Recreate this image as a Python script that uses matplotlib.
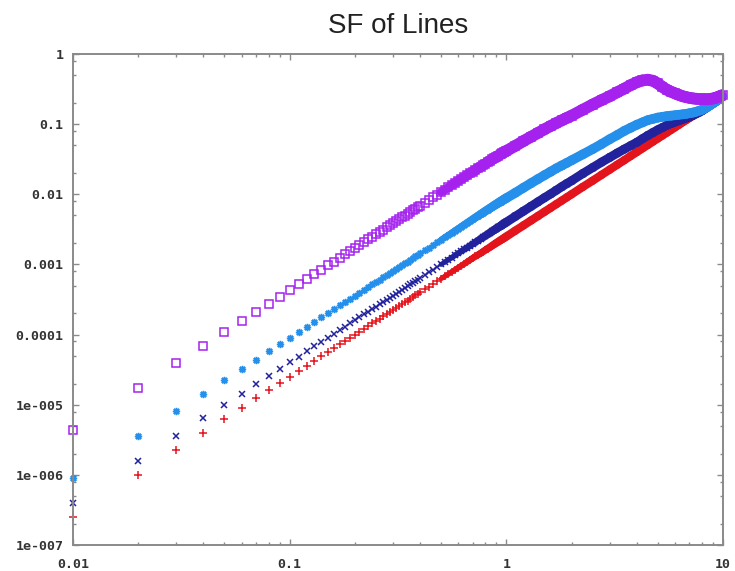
#!/usr/bin/env python3
"""Structure function of the four line series, log-log, gnuplot look."""

import numpy as np
import matplotlib
matplotlib.use("Agg")
import matplotlib.pyplot as plt
from matplotlib.collections import LineCollection
from matplotlib.ticker import LogLocator, FixedFormatter, NullFormatter

# lag values
lag = [0.01, 0.02, 0.03, 0.04, 0.05, 0.06, 0.07, 0.08, 0.09, 0.10,
       0.11, 0.12, 0.13, 0.14, 0.15, 0.16, 0.17, 0.18, 0.19, 0.20,
       0.21, 0.22, 0.23, 0.24, 0.25, 0.26, 0.27, 0.28, 0.29, 0.30,
       0.31, 0.32, 0.33, 0.34, 0.35, 0.36, 0.37, 0.38, 0.39, 0.40,
       0.42, 0.44, 0.46, 0.48, 0.50, 0.52, 0.54, 0.56, 0.58, 0.60,
       0.62, 0.64, 0.66, 0.68, 0.70, 0.72, 0.74, 0.76, 0.78, 0.80,
       0.82, 0.84, 0.86, 0.88, 0.90, 0.92, 0.94, 0.96, 0.98, 1.00,
       1.1, 1.2, 1.3, 1.4, 1.5, 1.6, 1.7, 1.8, 1.9, 2.0,
       2.25, 2.5, 2.75, 3.0, 3.25, 3.5, 3.75, 4.0, 4.25, 4.5, 4.75, 5.0,
       5.25, 5.5, 5.75, 6.0, 6.25, 6.5, 6.75, 7.0, 7.25, 7.5, 7.75, 8.0,
       8.25, 8.5, 8.75, 9.0, 9.25, 9.5, 9.75, 10.0]

sf_red = [2.5e-7, 1.0e-6, 2.25e-6, 4.0e-6, 6.25e-6, 9.0e-6, 1.23e-5, 1.6e-5, 2.03e-5, 2.5e-5,
          3.03e-5, 3.6e-5, 4.23e-5, 4.9e-5, 5.63e-5, 6.4e-5, 7.23e-5, 8.1e-5, 9.03e-5, 1.0e-4,
          1.10e-4, 1.21e-4, 1.32e-4, 1.44e-4, 1.56e-4, 1.69e-4, 1.82e-4, 1.96e-4, 2.10e-4, 2.25e-4,
          2.40e-4, 2.56e-4, 2.72e-4, 2.89e-4, 3.06e-4, 3.24e-4, 3.42e-4, 3.61e-4, 3.80e-4, 4.0e-4,
          4.41e-4, 4.84e-4, 5.29e-4, 5.76e-4, 6.25e-4, 6.76e-4, 7.29e-4, 7.84e-4, 8.41e-4, 9.0e-4,
          9.61e-4, 1.02e-3, 1.09e-3, 1.16e-3, 1.23e-3, 1.30e-3, 1.37e-3, 1.44e-3, 1.52e-3, 1.6e-3,
          1.68e-3, 1.76e-3, 1.85e-3, 1.94e-3, 2.03e-3, 2.12e-3, 2.21e-3, 2.30e-3, 2.40e-3, 2.5e-3,
          3.03e-3, 3.6e-3, 4.23e-3, 4.9e-3, 5.63e-3, 6.4e-3, 7.23e-3, 8.1e-3, 9.03e-3, 1.0e-2,
          0.0127, 0.0156, 0.0189, 0.0225, 0.0264, 0.0306, 0.0352, 0.040, 0.0452, 0.0506, 0.0564, 0.0625,
          0.0689, 0.0756, 0.0827, 0.090, 0.0977, 0.106, 0.114, 0.1225, 0.131, 0.141, 0.150, 0.160,
          0.170, 0.181, 0.191, 0.2025, 0.214, 0.226, 0.238, 0.25]

sf_navy = [4.0e-7, 1.6e-6, 3.6e-6, 6.4e-6, 1.0e-5, 1.44e-5, 1.96e-5, 2.56e-5, 3.24e-5, 4.0e-5,
           4.84e-5, 5.76e-5, 6.76e-5, 7.84e-5, 9.0e-5, 1.02e-4, 1.16e-4, 1.3e-4, 1.44e-4, 1.6e-4,
           1.76e-4, 1.94e-4, 2.12e-4, 2.30e-4, 2.5e-4, 2.70e-4, 2.92e-4, 3.14e-4, 3.36e-4, 3.6e-4,
           3.84e-4, 4.10e-4, 4.36e-4, 4.62e-4, 4.9e-4, 5.18e-4, 5.48e-4, 5.78e-4, 6.08e-4, 6.4e-4,
           7.06e-4, 7.74e-4, 8.46e-4, 9.22e-4, 1.0e-3, 1.08e-3, 1.17e-3, 1.25e-3, 1.35e-3, 1.44e-3,
           1.54e-3, 1.64e-3, 1.74e-3, 1.85e-3, 1.96e-3, 2.07e-3, 2.19e-3, 2.31e-3, 2.43e-3, 2.56e-3,
           2.69e-3, 2.82e-3, 2.96e-3, 3.10e-3, 3.24e-3, 3.39e-3, 3.53e-3, 3.69e-3, 3.84e-3, 4.0e-3,
           4.84e-3, 5.75e-3, 6.73e-3, 7.8e-3, 8.93e-3, 1.01e-2, 1.14e-2, 1.28e-2, 1.42e-2, 1.56e-2,
           0.0197, 0.024, 0.0287, 0.0335, 0.0387, 0.044, 0.0494, 0.055, 0.062, 0.069, 0.076, 0.083,
           0.0895, 0.096, 0.102, 0.107, 0.112, 0.117, 0.122, 0.127, 0.133, 0.140, 0.147, 0.155,
           0.165, 0.175, 0.186, 0.197, 0.209, 0.222, 0.236, 0.25]

sf_sky = [9.0e-7, 3.6e-6, 8.1e-6, 1.44e-5, 2.25e-5, 3.24e-5, 4.41e-5, 5.76e-5, 7.29e-5, 9.0e-5,
          1.09e-4, 1.3e-4, 1.52e-4, 1.76e-4, 2.03e-4, 2.3e-4, 2.6e-4, 2.92e-4, 3.25e-4, 3.6e-4,
          3.97e-4, 4.36e-4, 4.76e-4, 5.18e-4, 5.63e-4, 6.08e-4, 6.56e-4, 7.06e-4, 7.57e-4, 8.1e-4,
          8.65e-4, 9.22e-4, 9.8e-4, 1.04e-3, 1.10e-3, 1.17e-3, 1.23e-3, 1.30e-3, 1.37e-3, 1.44e-3,
          1.59e-3, 1.74e-3, 1.90e-3, 2.07e-3, 2.25e-3, 2.43e-3, 2.62e-3, 2.82e-3, 3.03e-3, 3.24e-3,
          3.46e-3, 3.69e-3, 3.92e-3, 4.16e-3, 4.41e-3, 4.67e-3, 4.93e-3, 5.2e-3, 5.48e-3, 5.76e-3,
          6.04e-3, 6.33e-3, 6.63e-3, 6.93e-3, 7.24e-3, 7.55e-3, 7.86e-3, 8.18e-3, 8.5e-3, 8.82e-3,
          1.05e-2, 1.24e-2, 1.44e-2, 1.65e-2, 1.87e-2, 2.1e-2, 2.34e-2, 2.57e-2, 2.8e-2, 3.05e-2,
          0.037, 0.044, 0.052, 0.061, 0.070, 0.080, 0.089, 0.098, 0.106, 0.114, 0.119, 0.124,
          0.127, 0.130, 0.132, 0.134, 0.136, 0.138, 0.140, 0.143, 0.146, 0.150, 0.155, 0.160,
          0.168, 0.178, 0.188, 0.200, 0.212, 0.224, 0.237, 0.25]

sf_violet = [4.3e-6, 1.72e-5, 3.87e-5, 6.88e-5, 1.08e-4, 1.55e-4, 2.11e-4, 2.75e-4, 3.48e-4, 4.3e-4,
             5.2e-4, 6.19e-4, 7.27e-4, 8.43e-4, 9.68e-4, 1.1e-3, 1.24e-3, 1.39e-3, 1.55e-3, 1.72e-3,
             1.90e-3, 2.08e-3, 2.27e-3, 2.48e-3, 2.69e-3, 2.91e-3, 3.13e-3, 3.37e-3, 3.62e-3, 3.87e-3,
             4.13e-3, 4.40e-3, 4.68e-3, 4.97e-3, 5.27e-3, 5.57e-3, 5.89e-3, 6.21e-3, 6.54e-3, 6.88e-3,
             7.59e-3, 8.32e-3, 9.1e-3, 9.91e-3, 1.075e-2, 1.16e-2, 1.25e-2, 1.35e-2, 1.45e-2, 1.55e-2,
             1.65e-2, 1.76e-2, 1.87e-2, 1.99e-2, 2.1e-2, 2.22e-2, 2.35e-2, 2.48e-2, 2.6e-2, 2.74e-2,
             2.87e-2, 3.0e-2, 3.14e-2, 3.28e-2, 3.42e-2, 3.56e-2, 3.71e-2, 3.86e-2, 4.0e-2, 4.15e-2,
             4.9e-2, 5.75e-2, 6.6e-2, 7.5e-2, 8.45e-2, 9.4e-2, 0.1035, 0.113, 0.1225, 0.132,
             0.16, 0.19, 0.22, 0.25, 0.285, 0.32, 0.36, 0.395, 0.42, 0.43, 0.415, 0.38,
             0.34, 0.31, 0.29, 0.275, 0.262, 0.25, 0.243, 0.237, 0.233, 0.23, 0.228, 0.226,
             0.226, 0.227, 0.229, 0.232, 0.238, 0.245, 0.253, 0.262]

y_ticks = [1e-7, 1e-6, 1e-5, 1e-4, 1e-3, 1e-2, 1e-1, 1]
y_labels = ["1e-007", "1e-006", "1e-005", "0.0001", "0.001", "0.01", "0.1", "1"]
x_ticks = [0.01, 0.1, 1, 10]
x_labels = ["0.01", "0.1", "1", "10"]

# (values, colour, marker, markersize, band width thin -> full, in pt)
series = [
    (sf_red, "#e4141c", "+", 5.2, 3.5, 6.0),
    (sf_navy, "#22229c", "x", 5.0, 3.5, 6.5),
    (sf_sky, "#2490ec", (8, 2, 0), 5.2, 4.5, 7.0),
    (sf_violet, "#a522ee", "s", 5.6, 6.0, 8.5),
]

# the symbols start piling up into a band at BAND_FROM; fully merged by BAND_FULL
BAND_FROM, BAND_FULL = 0.5, 1.0

fig = plt.figure(figsize=(7.35, 5.71), dpi=100)
ax = fig.add_axes([73 / 735, 1 - 545 / 571, 650 / 735, 491 / 571])

x = np.array(lag)
for i, (vals, col, mk, ms, w0, w1) in enumerate(series):
    y = np.array(vals)
    idx = np.where(x >= BAND_FROM)[0]
    segs = [[(x[a], y[a]), (x[a + 1], y[a + 1])] for a in idx[:-1]]
    t = np.clip(np.log(x[idx[:-1]] / BAND_FROM) / np.log(BAND_FULL / BAND_FROM), 0, 1)
    lc = LineCollection(segs, colors=col, linewidths=w0 + (w1 - w0) * t,
                        capstyle="round", joinstyle="round", zorder=2 + 2 * i)
    ax.add_collection(lc)
    ax.plot(x, y, ls="none", marker=mk, ms=ms, mew=1.1,
            mec=col, mfc="none", color=col, zorder=3 + 2 * i, clip_on=False)

ax.set_xscale("log")
ax.set_yscale("log")
ax.set_xlim(0.01, 10)
ax.set_ylim(1e-7, 1)

ax.set_xticks(x_ticks)
ax.xaxis.set_major_formatter(FixedFormatter(x_labels))
ax.set_yticks(y_ticks)
ax.yaxis.set_major_formatter(FixedFormatter(y_labels))
ax.xaxis.set_minor_locator(LogLocator(base=10, subs=np.arange(2, 10), numticks=20))
ax.yaxis.set_minor_locator(LogLocator(base=10, subs=[2, 5, 8], numticks=20))
ax.xaxis.set_minor_formatter(NullFormatter())
ax.yaxis.set_minor_formatter(NullFormatter())

grey = "#8a8a8a"
for sp in ax.spines.values():
    sp.set_color(grey)
    sp.set_linewidth(1.4)
    sp.set_zorder(20)
ax.tick_params(which="both", direction="in", top=True, right=True,
               color=grey, width=1.0)
ax.tick_params(which="major", length=4)
ax.tick_params(which="minor", length=2.2)
for lbl in ax.get_xticklabels() + ax.get_yticklabels():
    lbl.set_fontfamily("DejaVu Sans Mono")
    lbl.set_fontweight("bold")
    lbl.set_fontsize(9.5)
    lbl.set_color("#333333")
ax.tick_params(axis="y", pad=7)
ax.tick_params(axis="x", pad=9)

ax.set_title("SF of Lines", fontfamily="Liberation Sans", fontsize=20,
             color="#222222", pad=15)

fig.savefig("out.png", dpi=100)
